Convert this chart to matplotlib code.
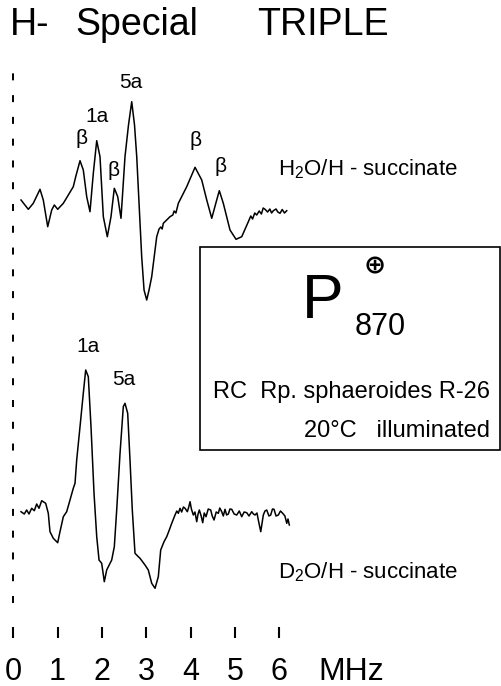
import matplotlib
matplotlib.use('Agg')
import matplotlib.pyplot as plt
from matplotlib.patches import Rectangle

plt.rcParams['font.family'] = ['Liberation Sans', 'DejaVu Sans']
plt.rcParams['mathtext.fontset'] = 'custom'
plt.rcParams['mathtext.rm'] = 'Liberation Sans'

# H2O / H-succinate spectrum (frequency in MHz, intensity in arb. units)
h2o_freq = [0.174, 0.339, 0.451, 0.603, 0.677, 0.777, 0.867, 0.926, 1.002, 1.129,
            1.242, 1.354, 1.409, 1.506, 1.580, 1.657, 1.731, 1.806, 1.883, 1.957,
            2.032, 2.122, 2.205, 2.280, 2.357, 2.431, 2.521, 2.600, 2.673, 2.736,
            2.786, 2.898, 2.951, 3.011, 3.064, 3.124, 3.237, 3.290, 3.330, 3.360,
            3.386, 3.537, 3.600, 3.630, 3.670, 3.725,
            3.914, 4.102, 4.253, 4.366, 4.479, 4.591, 4.650, 4.740, 4.891, 5.027,
            5.156, 5.305, 5.360, 5.400, 5.450, 5.494, 5.550, 5.600, 5.640, 5.682,
            5.740, 5.790, 5.830, 5.869, 5.930, 5.970, 6.020, 6.070, 6.120, 6.172]
h2o_int = [1.0, 0.07, 0.67, 2.07, 1.0, -1.67, 0.0, 0.5, 0.07, 0.67,
           1.5, 2.33, 3.33, 4.93, 4.0, 1.33, -0.17, 3.67, 6.93, 5.33,
           -0.67, -2.67, -0.67, 2.17, 1.33, -0.83, 5.33, 8.5, 10.83, 8.5,
           5.33, -4.67, -8.0, -9.0, -8.0, -6.67, -2.67, -1.9, -1.7, -1.9,
           -1.33, -0.67, -0.5, -0.1, -0.3, 0.67,
           2.33, 4.27, 3.0, 1.0, -0.83, 1.0, 1.93, 0.67, -2.0, -2.93,
           -2.67, -1.17, -0.6, -0.9, -0.3, -0.5, -0.1, -0.4, 0.2, 0.07,
           -0.2, 0.1, -0.3, -0.07, 0.1, -0.2, -0.33, 0.05, -0.3, -0.07]

# D2O / H-succinate spectrum
d2o_freq = [0.174, 0.248, 0.302, 0.354, 0.415, 0.474, 0.528, 0.580, 0.641, 0.731,
            0.790, 0.828, 0.903, 1.002, 1.054, 1.129, 1.205, 1.280, 1.354, 1.393,
            1.431, 1.506, 1.580, 1.634, 1.693, 1.754, 1.822, 1.883, 1.935, 1.995,
            2.054, 2.108, 2.221, 2.280, 2.334, 2.409, 2.483, 2.521, 2.582, 2.634,
            2.686, 2.747, 2.822, 2.860, 2.973, 3.047, 3.124, 3.199, 3.273, 3.327,
            3.402, 3.463, 3.521, 3.576,
            3.650, 3.690, 3.725, 3.763, 3.800, 3.840, 3.876, 3.928, 3.960, 3.989,
            4.020, 4.063, 4.100, 4.140, 4.170, 4.199, 4.240, 4.275, 4.310, 4.350,
            4.400, 4.456, 4.490, 4.531, 4.580, 4.628, 4.660, 4.704, 4.740, 4.779,
            4.815, 4.853, 4.890, 4.930, 4.985, 5.043, 5.100, 5.156, 5.210, 5.269,
            5.320, 5.381, 5.420, 5.456, 5.500, 5.530, 5.585, 5.643, 5.680, 5.720,
            5.770, 5.810, 5.850, 5.885, 5.930, 5.982, 6.030, 6.081, 6.130, 6.172,
            6.200, 6.230]
d2o_int = [-0.17, -0.4, 0.0, -0.4, 0.17, -0.07, 0.6, 0.17, 0.93, 0.67,
           -0.33, -2.17, -2.83, -3.27, -2.17, -0.67, -0.17, 1.0, 2.17, 2.67,
           5.0, 8.33, 11.67, 14.0, 13.33, 8.33, 1.67, -2.67, -5.0, -5.33,
           -7.17, -6.0, -5.0, -3.67, 0.0, 5.67, 10.33, 10.67, 9.67, 5.0,
           0.0, -4.33, -4.67, -4.83, -5.5, -6.0, -7.33, -7.83, -6.67, -4.0,
           -3.17, -2.67, -2.0, -1.33,
           -0.5, -0.1, -0.33, 0.17, -0.2, 0.3, 0.17, -0.17, 0.3, 0.83,
           0.1, -0.5, -0.2, -1.17, -0.4, 0.0, -0.6, -1.27, -0.3, -0.67,
           0.1, 0.0, -0.6, -1.0, -0.2, -0.33, 0.2, -0.17, -0.6, 0.07,
           -0.5, -0.4, 0.1, 0.07, -0.4, -0.5, -0.1, -0.67, -0.2, -0.27,
           -0.6, -0.17, -0.4, -0.5, -0.3, -1.0, -2.17, -0.5, -0.1, 0.0,
           -0.6, -0.5, 0.1, 0.07, -0.6, -0.5, -0.1, -0.33, -0.6, -1.33,
           -0.9, -1.5]

tick_mhz = [0, 1, 2, 3, 4, 5, 6]

# vertical placement of the two traces
top_offset = 47.6
bottom_offset = 17.6

fig = plt.figure(figsize=(5.02, 6.86), dpi=100)
ax = fig.add_axes([0, 0, 1, 1])
ax.set_xlim(-0.300, 11.03)
ax.set_ylim(0, 68.6)
ax.axis('off')

ax.plot(h2o_freq, [v + top_offset for v in h2o_int], color='black', lw=1.1)
ax.plot(d2o_freq, [v + bottom_offset for v in d2o_int], color='black', lw=1.1)

# dashed zero line
ax.plot([0, 0], [8.3, 62.6], color='black', lw=1.4, linestyle=(0, (3.6, 7.6)))

# frequency scale
for t in tick_mhz:
    ax.plot([t, t], [4.8, 5.9], color='black', lw=1.5, solid_capstyle='butt')
    ax.text(t, 0.6, str(t), ha='center', va='baseline', fontsize=22)
ax.text(6.885, 0.6, 'MHz', ha='left', va='baseline', fontsize=23)

# title
ax.text(-0.075, 65.1, 'H-', ha='left', va='baseline', fontsize=27)
ax.text(1.395, 65.1, 'Special', ha='left', va='baseline', fontsize=27)
ax.text(5.50, 65.1, 'TRIPLE', ha='left', va='baseline', fontsize=27)

# peak labels, upper trace
ax.text(2.657, 59.8, '5a', ha='center', va='baseline', fontsize=15)
ax.text(1.90, 56.4, '1a', ha='center', va='baseline', fontsize=15)
for bx, by in [(1.53, 54.8), (2.27, 51.6), (4.12, 54.6), (4.67, 52.0)]:
    ax.text(bx, by, 'β', ha='center', va='center', fontsize=15)

# peak labels, lower trace
ax.text(1.675, 33.4, '1a', ha='center', va='baseline', fontsize=15)
ax.text(2.488, 30.1, '5a', ha='center', va='baseline', fontsize=15)

ax.text(5.975, 51.1, r'H$_2$O/H - succinate', ha='left', va='baseline', fontsize=16)
ax.text(5.975, 10.8, r'D$_2$O/H - succinate', ha='left', va='baseline', fontsize=16)

# sample box
ax.add_patch(Rectangle((4.214, 23.6), 10.99 - 4.214, 43.9 - 23.6,
                       fill=False, edgecolor='black', lw=1.2))
ax.text(6.98, 36.8, 'P', ha='center', va='baseline', fontsize=45)
ax.text(8.16, 42.0, '⊕', ha='center', va='center', fontsize=19,
        family='DejaVu Sans', fontweight='bold')
ax.text(7.71, 35.1, '870', ha='left', va='baseline', fontsize=22)
ax.text(10.76, 28.8, 'RC  Rp. sphaeroides R-26', ha='right', va='baseline', fontsize=17)
ax.text(10.76, 24.9, '20°C   illuminated', ha='right', va='baseline', fontsize=17)

fig.savefig('out.png', dpi=100)
